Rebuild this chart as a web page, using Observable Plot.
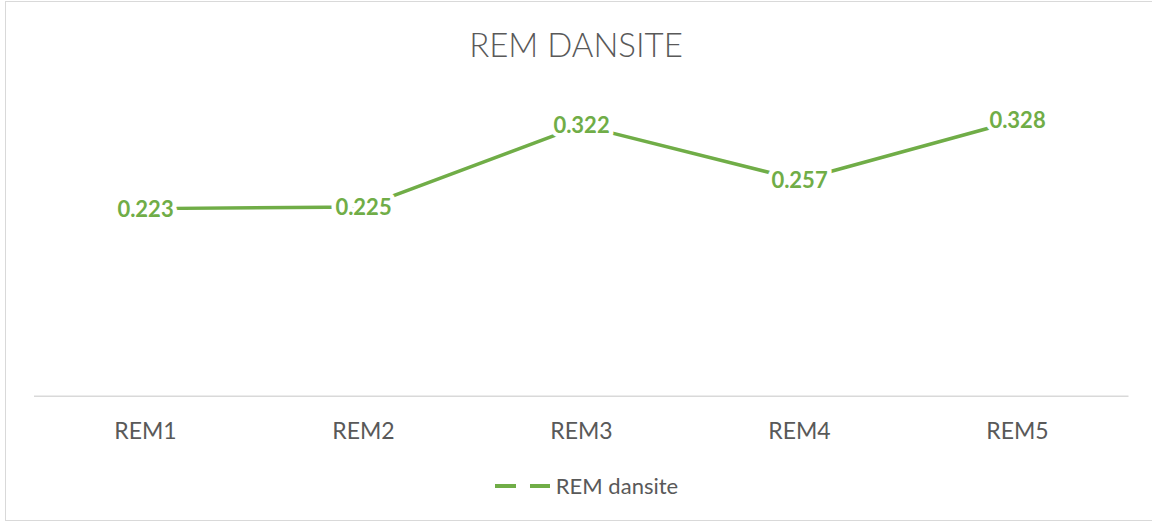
<!DOCTYPE html>
<html>
<head>
<meta charset="utf-8">
<script src="https://cdn.jsdelivr.net/npm/d3@7"></script>
<script src="https://cdn.jsdelivr.net/npm/@observablehq/plot@0.6"></script>
<style>
  html, body { margin: 0; padding: 0; background: #fff; }
  #wrap { position: relative; width: 1152px; height: 524px; overflow: hidden; font-family: Lato, "Open Sans", sans-serif; }
  #frame { position: absolute; left: 5px; top: 1px; width: 1160px; height: 520px; border: 1.5px solid #d9d9d9; box-sizing: border-box; }
  #title { position: absolute; left: 0; top: 24px; width: 1152px; text-align: center; font-size: 33px; font-weight: 300; color: #595959; line-height: 40px; }
  #chart { position: absolute; left: 0; top: 80px; }
  #legend { position: absolute; left: 10px; top: 472px; width: 1152px; display: flex; justify-content: center; align-items: center; font-size: 22px; color: #595959; }
  #legend svg { margin-right: 5px; }
</style>
</head>
<body>
<div id="wrap">
  <div id="frame"></div>
  <div id="title">REM DANSITE</div>
  <div id="chart"></div>
  <div id="legend"></div>
</div>
<script>
const categories = ["REM1", "REM2", "REM3", "REM4", "REM5"];
const values = [0.223, 0.225, 0.322, 0.257, 0.328];
const seriesName = "REM dansite";
const lineColor = "#70AD47";

const data = categories.map((c, i) => ({cat: c, v: values[i]}));

const chart = Plot.plot({
  width: 1152,
  height: 380,
  marginLeft: 34,
  marginRight: 23.5,
  marginTop: 21.3,
  marginBottom: 64.3,
  style: {fontFamily: "Lato, 'Open Sans', sans-serif", background: "transparent"},
  x: {type: "point", domain: categories, padding: 0.5, label: null},
  y: {domain: [0, 0.35], axis: null},
  marks: [
    Plot.ruleY([0], {stroke: "#d9d9d9", strokeWidth: 1.5}),
    Plot.axisX({tickSize: 0, tickPadding: 26, fontSize: 23, fill: "#595959", label: null}),
    Plot.line(data, {x: "cat", y: "v", stroke: lineColor, strokeWidth: 3.5}),
    Plot.text(data, {x: "cat", y: "v", text: d => d.v.toFixed(3), fill: lineColor, fontWeight: "bold", fontSize: 22, stroke: "white", strokeWidth: 9, strokeLinejoin: "round", dy: 1})
  ]
});
document.getElementById("chart").appendChild(chart);

const legend = document.getElementById("legend");
legend.innerHTML = `<svg width="57" height="10"><line x1="1" y1="5" x2="56" y2="5" stroke="${lineColor}" stroke-width="4" stroke-dasharray="21 14"/></svg><span>${seriesName}</span>`;
</script>
</body>
</html>
